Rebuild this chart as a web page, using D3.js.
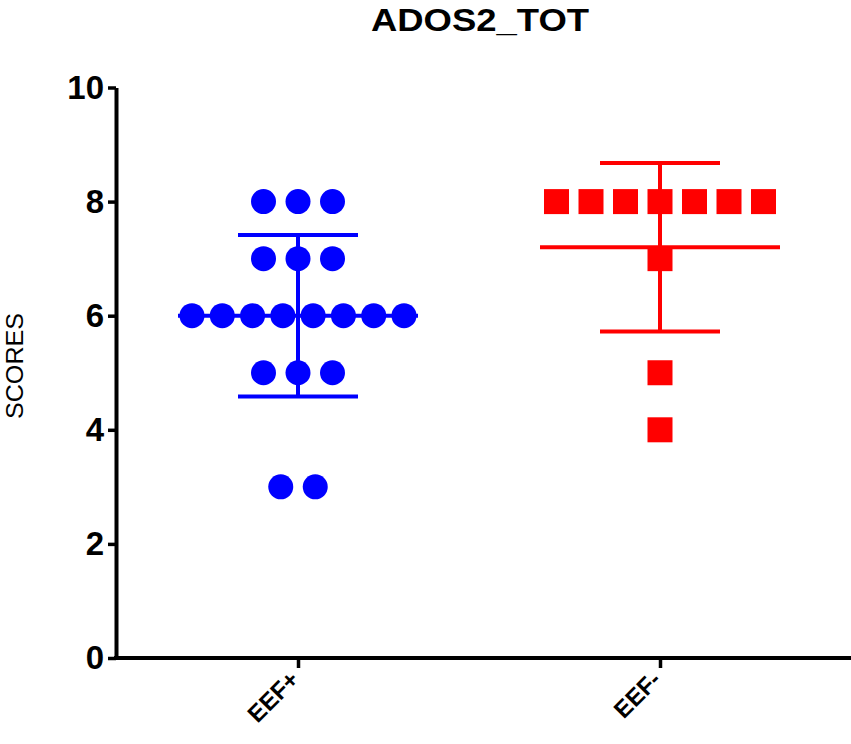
<!DOCTYPE html>
<html>
<head>
<meta charset="utf-8">
<script src="https://cdn.jsdelivr.net/npm/d3@7"></script>
<style>
  body { margin: 0; background: #fff; }
  text { font-family: "Liberation Sans", Arial, sans-serif; }
</style>
</head>
<body>
<div id="chart"></div>
<script>
// Data
const groups = ["EEF+", "EEF-"];
const eefPlus = [8, 8, 8, 7, 7, 7, 6, 6, 6, 6, 6, 6, 6, 6, 5, 5, 5, 3, 3];
const eefMinus = [8, 8, 8, 8, 8, 8, 8, 7, 5, 4];
const yTicks = [0, 2, 4, 6, 8, 10];
const colors = ["#0000ff", "#ff0000"];

const width = 851, height = 744;
const plotLeft = 116, plotTop = 87.5, plotBottom = 658;

const svg = d3.select("#chart").append("svg")
  .attr("width", width)
  .attr("height", height);

const y = d3.scaleLinear().domain([0, 10]).range([plotBottom, plotTop]);
const x = d3.scalePoint().domain(groups).range([298, 660]);

// Title
svg.append("text")
  .attr("x", 480)
  .attr("y", 31)
  .attr("text-anchor", "middle")
  .attr("font-size", "31px")
  .attr("font-weight", "bold")
  .attr("textLength", 218)
  .attr("lengthAdjust", "spacingAndGlyphs")
  .text("ADOS2_TOT");

// Y axis label
svg.append("text")
  .attr("transform", `translate(23,366) rotate(-90)`)
  .attr("text-anchor", "middle")
  .attr("font-size", "24px")
  .attr("textLength", 106)
  .attr("lengthAdjust", "spacingAndGlyphs")
  .text("SCORES");

// Y axis
const yAxis = svg.append("g")
  .attr("transform", `translate(${plotLeft},0)`)
  .call(d3.axisLeft(y).tickValues(yTicks).tickSize(8).tickSizeOuter(0).tickPadding(4));
yAxis.select(".domain").attr("stroke-width", 4);
yAxis.selectAll(".tick line").attr("stroke-width", 3.5);
yAxis.selectAll(".tick text")
  .attr("font-size", "33px")
  .attr("font-weight", "bold")
  .attr("font-family", "Liberation Sans, Arial, sans-serif")
  .attr("fill", "#000");

// X axis
const xAxis = svg.append("g")
  .attr("transform", `translate(0,${plotBottom})`)
  .call(d3.axisBottom(x).tickSize(10).tickSizeOuter(0));
xAxis.select(".domain").remove();
xAxis.append("line")
  .attr("x1", plotLeft - 2).attr("x2", width)
  .attr("stroke", "#000").attr("stroke-width", 4);
xAxis.selectAll(".tick line").attr("stroke-width", 3.5);
xAxis.selectAll(".tick text")
  .attr("font-size", "24px")
  .attr("font-weight", "bold")
  .attr("font-family", "Liberation Sans, Arial, sans-serif")
  .attr("fill", "#000")
  .attr("text-anchor", "end")
  .attr("x", 0)
  .attr("y", 0)
  .attr("dy", 0)
  .attr("transform", "translate(2,23) rotate(-45)");

// Layout points of equal value side by side
function layout(values, spacingMax, rowWidth) {
  const counts = d3.rollup(values, v => v.length, d => d);
  const seen = new Map();
  return values.map(v => {
    const n = counts.get(v);
    const i = seen.get(v) || 0;
    seen.set(v, i + 1);
    const step = n > 1 ? Math.min(spacingMax, rowWidth / (n - 1)) : 0;
    return { value: v, dx: (i - (n - 1) / 2) * step };
  });
}

const series = [eefPlus, eefMinus];

series.forEach((vals, gi) => {
  const cx = x(groups[gi]);
  const c = colors[gi];
  const mean = d3.mean(vals);
  const sd = d3.deviation(vals);
  const g = svg.append("g");

  // mean line
  g.append("line")
    .attr("x1", cx - 120).attr("x2", cx + 120)
    .attr("y1", y(mean)).attr("y2", y(mean))
    .attr("stroke", c).attr("stroke-width", 4);
  // SD stem and caps
  g.append("line")
    .attr("x1", cx).attr("x2", cx)
    .attr("y1", y(mean + sd)).attr("y2", y(mean - sd))
    .attr("stroke", c).attr("stroke-width", 4);
  [mean + sd, mean - sd].forEach(v => {
    g.append("line")
      .attr("x1", cx - 60).attr("x2", cx + 60)
      .attr("y1", y(v)).attr("y2", y(v))
      .attr("stroke", c).attr("stroke-width", 4);
  });

  const pts = layout(vals, 34.5, 212);
  if (gi === 0) {
    g.selectAll("circle").data(pts).enter().append("circle")
      .attr("cx", d => cx + d.dx)
      .attr("cy", d => y(d.value))
      .attr("r", 12.5)
      .attr("fill", c);
  } else {
    g.selectAll("rect").data(pts).enter().append("rect")
      .attr("x", d => cx + d.dx - 12.5)
      .attr("y", d => y(d.value) - 12.5)
      .attr("width", 25)
      .attr("height", 25)
      .attr("fill", c);
  }
});
</script>
</body>
</html>
